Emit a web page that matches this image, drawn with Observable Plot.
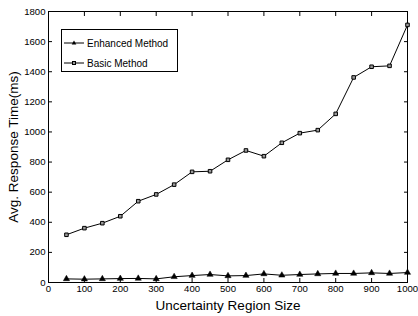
<!DOCTYPE html>
<html>
<head>
<meta charset="utf-8">
<script src="https://cdn.jsdelivr.net/npm/d3@7"></script>
<script src="https://cdn.jsdelivr.net/npm/@observablehq/plot@0.6"></script>
<style>
  html, body { margin: 0; padding: 0; background: #fff; }
  #wrap { position: relative; width: 418px; height: 316px; overflow: hidden; }
  #legend { position: absolute; left: 61px; top: 29px; width: 115px; height: 41px;
    border: 1px solid #000; background: #fff; font-family: "Liberation Sans", Arial, sans-serif; font-size: 10px; }
  .row { position: absolute; left: 2px; display: flex; align-items: center; height: 12px; }
  .row svg { margin-right: 3px; }
</style>
</head>
<body>
<div id="wrap"></div>
<script>
const sizes = [50,100,150,200,250,300,350,400,450,500,550,600,650,700,750,800,850,900,950,1000];
const enhanced = [24,22,24,26,27,24,38,46,53,44,46,57,48,53,57,60,60,64,60,66];
const basic = [317,361,394,440,540,585,650,735,739,815,877,839,928,992,1012,1120,1362,1433,1439,1711];
const xTicks = [0,100,200,300,400,500,600,700,800,900,1000];
const yTicks = [0,200,400,600,800,1000,1200,1400,1600,1800];
const seriesNames = ["Enhanced Method", "Basic Method"];

const rows = [];
sizes.forEach((s, i) => {
  rows.push({size: s, value: enhanced[i], series: seriesNames[0]});
  rows.push({size: s, value: basic[i], series: seriesNames[1]});
});
const font = "Liberation Sans, Arial, sans-serif";
const fmt = d => String(d);

const chart = Plot.plot({
  width: 418, height: 316,
  marginLeft: 48, marginRight: 11, marginTop: 11, marginBottom: 34,
  style: {fontFamily: font, fontSize: "10px", color: "#000", background: "#fff", overflow: "visible"},
  x: {domain: [0, 1000]},
  y: {domain: [0, 1800]},
  marks: [
    Plot.frame({stroke: "#000", strokeWidth: 1}),
    Plot.axisX(xTicks, {anchor: "bottom", tickSize: 0, tickPadding: 3, fontSize: 9.6, tickFormat: fmt,
      label: "Uncertainty Region Size", labelAnchor: "center", labelArrow: "none", labelOffset: 27}),
    Plot.axisX(xTicks, {anchor: "bottom", tickSize: -4, text: null, label: null}),
    Plot.axisX(xTicks, {anchor: "top", tickSize: -4, text: null, label: null}),
    Plot.axisY(yTicks, {anchor: "left", tickSize: 0, tickPadding: 3, fontSize: 9.6, tickFormat: fmt,
      label: "Avg. Response Time(ms)", labelAnchor: "center", labelArrow: "none", labelOffset: 40}),
    Plot.axisY(yTicks, {anchor: "left", tickSize: -4, text: null, label: null}),
    Plot.axisY(yTicks, {anchor: "right", tickSize: -4, text: null, label: null}),
    Plot.line(rows, {x: "size", y: "value", z: "series", stroke: "#000", strokeWidth: 1}),
    Plot.dot(rows.filter(d => d.series === seriesNames[0]), {x: "size", y: "value", symbol: "triangle", r: 2.3, fill: "#000", stroke: "#000", strokeWidth: 0.5}),
    Plot.dot(rows.filter(d => d.series === seriesNames[1]), {x: "size", y: "value", symbol: "square", r: 2, fill: "#999", stroke: "#000", strokeWidth: 1})
  ]
});
chart.querySelectorAll("[aria-label='x-axis label'] text, [aria-label='y-axis label'] text").forEach(t => t.setAttribute("font-size", "13.5"));
const wrap = document.getElementById("wrap");
wrap.appendChild(chart);

const legend = document.createElement("div");
legend.id = "legend";
legend.innerHTML = `
  <div class="row" style="top:7px"><svg width="20" height="8"><line x1="0" y1="4" x2="20" y2="4" stroke="#000"/><path d="M10,1.6L12.3,5.6L7.7,5.6Z" fill="#000"/></svg><span>${seriesNames[0]}</span></div>
  <div class="row" style="top:27px"><svg width="20" height="8"><line x1="0" y1="4" x2="20" y2="4" stroke="#000"/><rect x="8.5" y="2.5" width="3" height="3" fill="#999" stroke="#000"/></svg><span>${seriesNames[1]}</span></div>`;
wrap.appendChild(legend);
</script>
</body>
</html>
